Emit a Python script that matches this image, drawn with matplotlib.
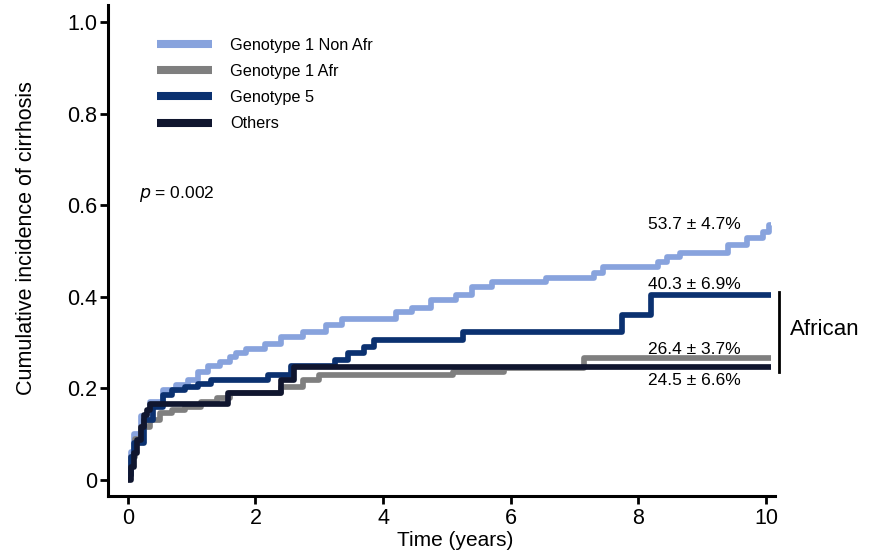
#!/usr/bin/env python3
"""
Cumulative incidence of cirrhosis by HCV genotype (step curves).
"""
import matplotlib
matplotlib.use('Agg')
import matplotlib.pyplot as plt

plt.rcParams['font.family'] = ['Liberation Sans', 'DejaVu Sans']

# Data (years, cumulative incidence)
nonafr_t = [0, 0.05, 0.1, 0.2, 0.35, 0.55, 0.75, 0.95, 1.1, 1.25, 1.45, 1.6, 1.7, 1.85,
            2.15, 2.4, 2.75, 3.1, 3.35, 4.2, 4.45, 4.75, 5.15, 5.4, 5.7, 6.55, 7.3, 7.45,
            8.3, 8.45, 8.65, 9.4, 9.7, 9.95, 10.05, 10.08]
nonafr_v = [0.02, 0.06, 0.10, 0.14, 0.17, 0.196, 0.207, 0.218, 0.236, 0.25, 0.258, 0.269,
            0.278, 0.285, 0.298, 0.313, 0.323, 0.338, 0.352, 0.366, 0.376, 0.392, 0.404,
            0.422, 0.432, 0.441, 0.453, 0.466, 0.477, 0.487, 0.495, 0.513, 0.528, 0.542,
            0.557, 0.557]

afr_t = [0, 0.05, 0.12, 0.2, 0.35, 0.5, 0.7, 0.9, 1.15, 1.4, 1.6, 2.4, 2.75, 3.0, 5.1,
         5.9, 7.15, 10.08]
afr_v = [0.01, 0.05, 0.09, 0.116, 0.13, 0.146, 0.153, 0.16, 0.17, 0.178, 0.19, 0.203,
         0.218, 0.229, 0.236, 0.245, 0.266, 0.266]

g5_t = [0, 0.05, 0.1, 0.25, 0.4, 0.55, 0.7, 0.9, 1.1, 1.3, 2.2, 2.55, 3.25, 3.45, 3.7,
        3.85, 5.25, 7.75, 8.2, 10.08]
g5_v = [0.01, 0.05, 0.08, 0.13, 0.16, 0.185, 0.196, 0.203, 0.21, 0.218, 0.229, 0.25,
        0.262, 0.277, 0.29, 0.306, 0.324, 0.36, 0.404, 0.404]

oth_t = [0, 0.05, 0.1, 0.15, 0.2, 0.25, 0.3, 0.35, 1.57, 2.4, 2.6, 10.08]
oth_v = [0.0, 0.028, 0.058, 0.087, 0.116, 0.142, 0.153, 0.167, 0.19, 0.218, 0.247, 0.247]

labels = ['Genotype 1 Non Afr', 'Genotype 1 Afr', 'Genotype 5', 'Others']
colors = ['#88a3dd', '#7f7f7f', '#0b3170', '#10162f']
end_text = ['53.7 ± 4.7%', '26.4 ± 3.7%', '40.3 ± 6.9%', '24.5 ± 6.6%']
end_text_y = [0.559, 0.286, 0.426, 0.218]

fig = plt.figure(figsize=(8.73, 5.54), dpi=100)
ax = fig.add_axes([0.1237, 0.1047, 0.764, 0.886])

series = [(nonafr_t, nonafr_v), (afr_t, afr_v), (g5_t, g5_v), (oth_t, oth_v)]
for (t, v), lab, col in zip(series, labels, colors):
    ax.step(t, v, where='post', color=col, lw=4.1, label=lab, solid_capstyle='butt')

for txt, y in zip(end_text, end_text_y):
    ax.text(8.88, y, txt, ha='center', va='center', fontsize=12.5)

# African bracket
ax.plot([10.2, 10.2], [0.236, 0.41], color='black', lw=2, clip_on=False)
ax.text(10.37, 0.328, 'African', ha='left', va='center', fontsize=16)

ax.text(0.17, 0.625, r'$p$ = 0.002', fontsize=12.5, ha='left', va='center')

leg = ax.legend(loc='upper left', bbox_to_anchor=(0.0735, 0.933), frameon=False,
                fontsize=11.7, handlelength=3.4, handletextpad=1.1, labelspacing=0.68,
                borderpad=0, borderaxespad=0)
for h in leg.get_lines():
    h.set_linewidth(5.8)

ax.set_xlim(-0.31, 10.14)
ax.set_ylim(-0.035, 1.037)
ax.set_xticks([0, 2, 4, 6, 8, 10])
ax.set_xticklabels(['0', '2', '4', '6', '8', '10'])
ax.set_yticks([0, 0.2, 0.4, 0.6, 0.8, 1.0])
ax.set_yticklabels(['0', '0.2', '0.4', '0.6', '0.8', '1.0'])
ax.tick_params(labelsize=15.5, width=2, length=6, direction='out')
ax.tick_params(axis='x', pad=3)
ax.tick_params(axis='y', pad=2)
for s in ['top', 'right']:
    ax.spines[s].set_visible(False)
for s in ['left', 'bottom']:
    ax.spines[s].set_linewidth(2.2)

ax.set_xlabel('Time (years)', fontsize=15)
ax.xaxis.set_label_coords(0.52, -0.071)
ax.set_ylabel('Cumulative incidence of cirrhosis', fontsize=15.5)
ax.yaxis.set_label_coords(-0.106, 0.526)

fig.savefig('out.png', dpi=100)
